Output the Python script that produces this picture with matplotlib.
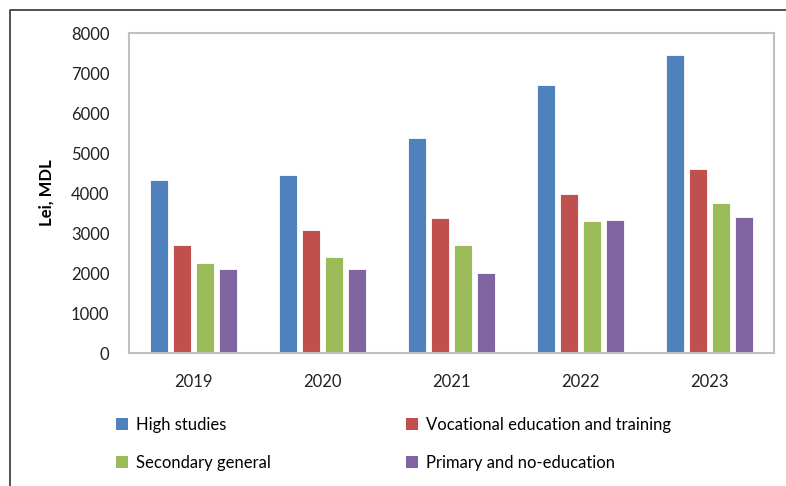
import matplotlib
matplotlib.use("Agg")
import matplotlib.pyplot as plt
from matplotlib.lines import Line2D
from matplotlib.patches import Patch
import numpy as np

# ---------------------------------------------------------------------
# Data (average monthly wages by education level, MDL)
# ---------------------------------------------------------------------
years = ["2019", "2020", "2021", "2022", "2023"]
series_names = [
    "High studies",
    "Vocational education and training",
    "Secondary general",
    "Primary and no-education",
]
high_studies = [4330, 4450, 5370, 6700, 7460]
vocational = [2690, 3070, 3380, 3980, 4590]
secondary = [2260, 2390, 2690, 3300, 3760]
primary = [2100, 2100, 2000, 3330, 3410]

colors = ["#4F81BD", "#C0504D", "#9BBB59", "#8064A2"]

plt.rcParams.update(
    {
        "font.family": ["Lato", "DejaVu Sans"],
        "font.size": 11.5,
    }
)

fig = plt.figure(figsize=(7.86, 4.86), dpi=100)
ax = fig.add_axes([129 / 786, 1 - 353 / 486, 645 / 786, 320 / 486])

x = np.arange(len(years))
pitch = 0.18
width = 0.14
all_series = [high_studies, vocational, secondary, primary]
for i, (vals, color) in enumerate(zip(all_series, colors)):
    ax.bar(
        x + (i - 1.5) * pitch,
        vals,
        width=width,
        color=color,
        edgecolor="white",
        linewidth=0.6,
        label=series_names[i],
        zorder=2,
    )

ax.set_xlim(-0.5, len(years) - 0.5)
ax.set_ylim(0, 8000)
ax.set_yticks(range(0, 8001, 1000))
ax.set_xticks(x, years)
ax.tick_params(axis="both", length=0, labelsize=12, colors="#222222")
ax.tick_params(axis="x", pad=15)
ax.tick_params(axis="y", pad=14)

for spine in ax.spines.values():
    spine.set_color("#C0C0C0")
    spine.set_linewidth(1.5)

ax.set_ylabel("Lei, MDL", fontweight="bold", fontsize=12, labelpad=12)

# legend: two columns, filled column by column
handles = [Patch(facecolor=c, edgecolor="none") for c in colors]
order = [0, 2, 1, 3]
fig.legend(
    [handles[k] for k in order],
    [series_names[k] for k in order],
    ncol=2,
    loc="upper left",
    bbox_to_anchor=(101 / 786, 1 - 402 / 486),
    frameon=False,
    handlelength=0.7,
    handleheight=0.7,
    handletextpad=0.5,
    columnspacing=8.1,
    labelspacing=1.3,
    fontsize=12,
)

# outer border of the figure
fig.add_artist(
    Line2D(
        [10 / 786, 10 / 786, 1.0],
        [0.0, 1 - 10 / 486, 1 - 10 / 486],
        transform=fig.transFigure,
        color="#333333",
        linewidth=1.2,
    )
)

fig.savefig("out.png", dpi=100, facecolor="white")
plt.close(fig)
